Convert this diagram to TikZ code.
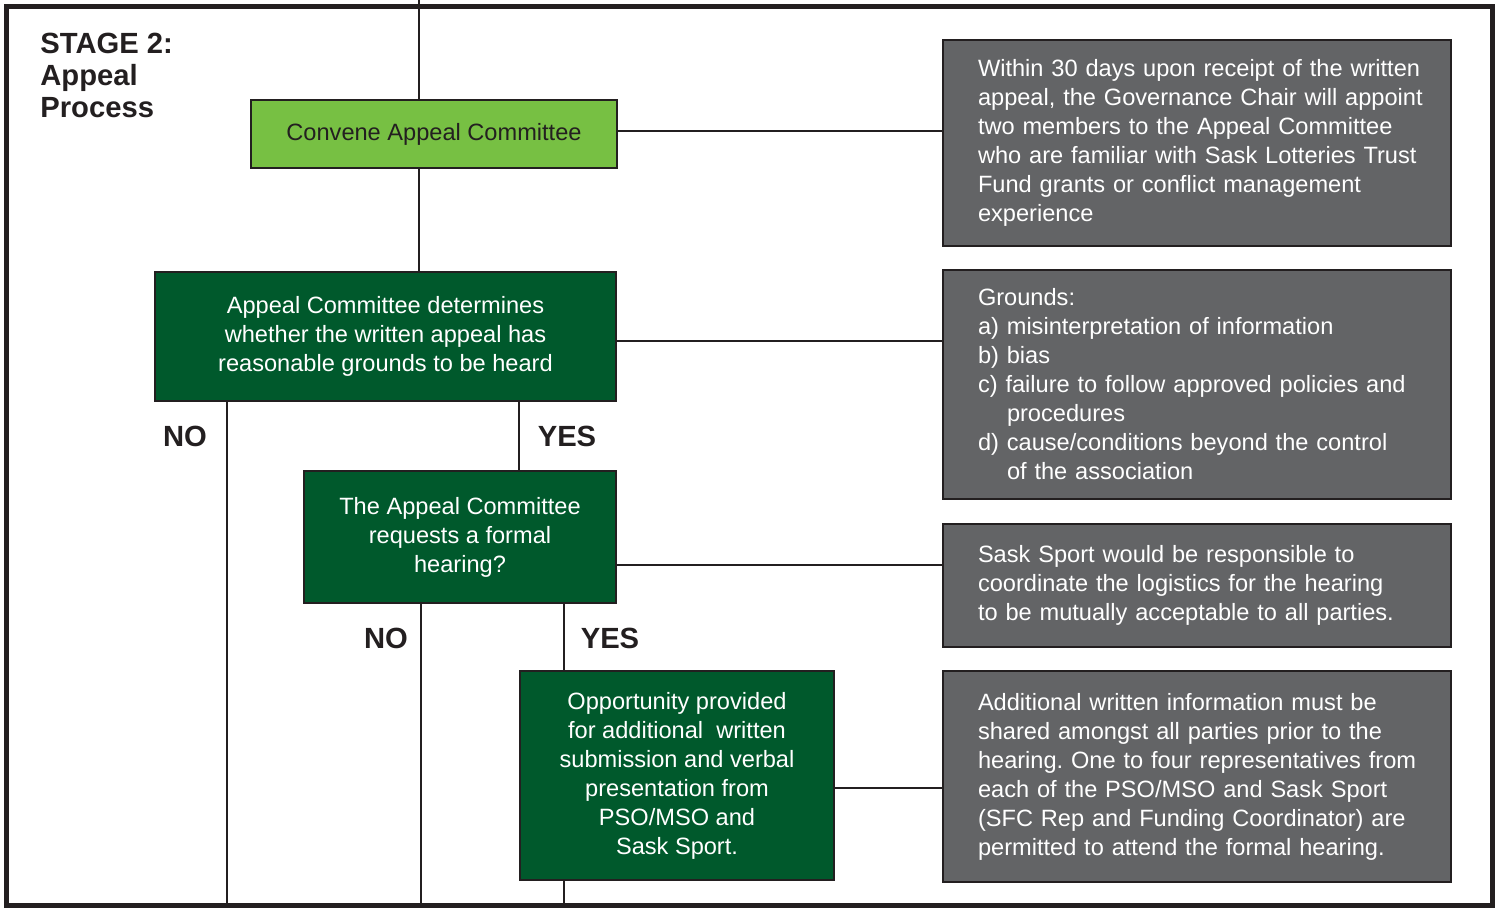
\documentclass[tikz,border=0pt]{standalone}
\usepackage{fontspec}
\setmainfont{Liberation Sans}
\usetikzlibrary{positioning}
\frenchspacing

\definecolor{inkgrey}{HTML}{231F20}
\definecolor{leafgreen}{HTML}{77C043}
\definecolor{forestgreen}{HTML}{00592C}
\definecolor{notegrey}{HTML}{636466}

\begin{document}
\begin{tikzpicture}[x=0.5pt,y=-0.5pt,
    every node/.style={font=\fontsize{11.8}{14.5}\selectfont},
    stepbox/.style={draw=inkgrey,line width=1.2pt,fill=forestgreen,text=white,align=center,inner sep=0pt},
    startbox/.style={stepbox,fill=leafgreen,text=inkgrey},
    notebox/.style={draw=inkgrey,line width=1.4pt,fill=notegrey,text=white,align=left,
        inner xsep=0pt,text width=254pt,execute at begin node={\leftskip=17.5pt\relax}},
    answer/.style={font=\fontsize{14.6}{16}\selectfont\bfseries,text=inkgrey,inner sep=0pt},
    link/.style={draw=inkgrey,line width=1.3pt}]
    \pgfmathsetmacro{\noteindent}{14.5}
    \useasboundingbox (0,0) rectangle (1501,909);
    % frame
    \draw[inkgrey,line width=2.5pt] (6.5,6.5) rectangle (1492.5,905.5);
    \coordinate (top) at (419,0);
    \node[answer,anchor=north west,align=left] (stage) at (40,33) {STAGE 2:\\Appeal\\Process};

    % flow boxes
    \node[startbox,minimum width=183pt,minimum height=34pt] (convene) at (434,134) {Convene Appeal Committee};
    \node[stepbox,minimum width=230.5pt,minimum height=64.5pt] (determine) at (385.5,336.5)
        {Appeal Committee determines\\whether the written appeal has\\reasonable grounds to be heard};
    \node[stepbox,minimum width=156pt,minimum height=66pt] (request) at (460,537)
        {The Appeal Committee\\requests a formal\\hearing?};
    \node[stepbox,minimum width=157pt,minimum height=104.5pt] (present) at (677,775.5)
        {Opportunity provided\\for additional\ \ written\\submission and verbal\\presentation from\\PSO/MSO and\\Sask Sport.};

    % notes
    \node[notebox,minimum height=103pt] (appoint) at (1197,143)
        {Within 30 days upon receipt of the written\\appeal, the Governance Chair will appoint\\two members to the Appeal Committee\\who are familiar with Sask Lotteries Trust\\Fund grants or conflict management\\experience};
    \node[notebox,minimum height=114.5pt] (grounds) at (1197,384.5)
        {Grounds:\\a) misinterpretation of information\\b) bias\\c) failure to follow approved policies and\\\hspace*{\noteindent pt}procedures\\d) cause/conditions beyond the control\\\hspace*{\noteindent pt}of the association};
    \node[notebox,minimum height=61.5pt] (logistics) at (1197,585.5)
        {Sask Sport would be responsible to\\coordinate the logistics for the hearing\\to be mutually acceptable to all parties.};
    \node[notebox,minimum height=105.5pt] (shared) at (1197,776.5)
        {Additional written information must be\\shared amongst all parties prior to the\\hearing. One to four representatives from\\each of the PSO/MSO and Sask Sport\\(SFC Rep and Funding Coordinator) are\\permitted to attend the formal hearing.};

    % connectors
    \draw[link] (top) -- (top |- convene.north);
    \draw[link] (convene.south -| top) -- (determine.north -| top);
    \draw[link] (convene.east |- 0,131) -- (appoint.west |- 0,131);
    \draw[link] (determine.east |- 0,341) -- (grounds.west |- 0,341);
    \draw[link] (request.east |- 0,565) -- (logistics.west |- 0,565);
    \draw[link] (present.east |- 0,788) -- (shared.west |- 0,788);

    \coordinate (no1) at (227,905.5);
    \coordinate (no2) at (421,905.5);
    \coordinate (yes2) at (564,905.5);
    \draw[link] (determine.south -| no1) -- (no1);
    \draw[link] (determine.south -| 519,0) -- (request.north -| 519,0);
    \draw[link] (request.south -| no2) -- (no2);
    \draw[link] (request.south -| yes2) -- (present.north -| yes2);
    \draw[link] (present.south -| yes2) -- (yes2);

    \node[answer] (noA) at (185,436) {NO};
    \node[answer] (yesA) at (567,436) {YES};
    \node[answer] (noB) at (386,638) {NO};
    \node[answer] (yesB) at (610,638) {YES};
\end{tikzpicture}
\end{document}
